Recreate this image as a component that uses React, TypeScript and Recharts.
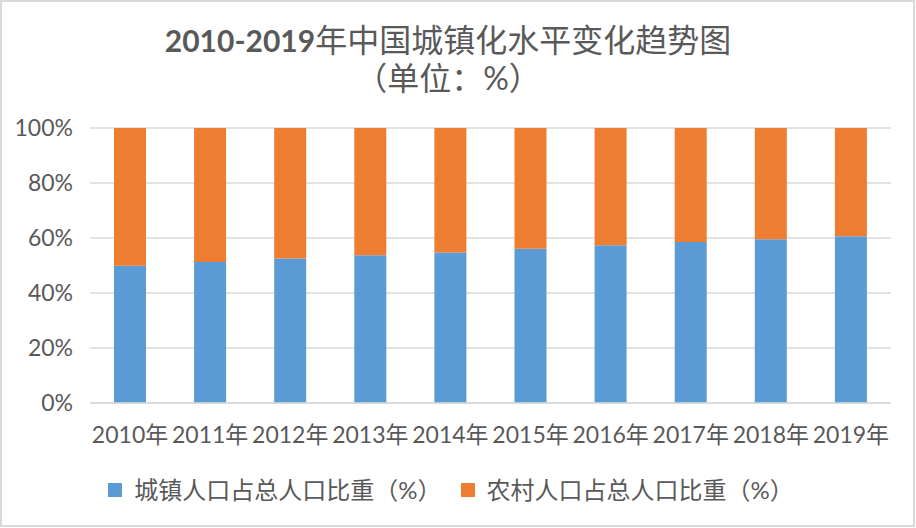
import { Bar, BarChart, CartesianGrid, XAxis, YAxis } from "recharts";

const YEARS = [
  "2010年",
  "2011年",
  "2012年",
  "2013年",
  "2014年",
  "2015年",
  "2016年",
  "2017年",
  "2018年",
  "2019年"
];

// 城镇人口占总人口比重（%）
const URBAN_SHARE = [49.95, 51.27, 52.57, 53.73, 54.77, 56.1, 57.35, 58.52, 59.58, 60.6];
// 农村人口占总人口比重（%）
const RURAL_SHARE = [50.05, 48.73, 47.43, 46.27, 45.23, 43.9, 42.65, 41.48, 40.42, 39.4];

const Y_TICKS = [0, 0.2, 0.4, 0.6, 0.8, 1];

const URBAN_NAME = "城镇人口占总人口比重（%）";
const RURAL_NAME = "农村人口占总人口比重（%）";

const URBAN_COLOR = "#5b9bd5";
const RURAL_COLOR = "#ed7d31";
const TEXT = "#595959";
const GRID = "#d9d9d9";
const FONT = "Lato, 'Noto Sans CJK SC', sans-serif";

const data = YEARS.map((year, i) => ({
  year,
  urban: URBAN_SHARE[i],
  rural: RURAL_SHARE[i]
}));

const legendItems = [
  { name: URBAN_NAME, color: URBAN_COLOR },
  { name: RURAL_NAME, color: RURAL_COLOR }
];

export default function App() {
  return (
    <div
      style={{
        position: "absolute",
        left: 0,
        top: 0,
        width: 916,
        height: 528,
        background: "#fff",
        fontFamily: FONT
      }}
    >
      <div
        style={{
          position: "absolute",
          left: 0,
          top: 0,
          width: 915,
          height: 527,
          border: `2px solid ${GRID}`,
          boxSizing: "border-box"
        }}
      />
      <div
        style={{
          position: "absolute",
          left: 0,
          width: 896,
          top: 21,
          textAlign: "center",
          color: TEXT,
          lineHeight: "38px",
          whiteSpace: "nowrap"
        }}
      >
        <div style={{ fontSize: 32 }}>
          <span style={{ fontWeight: 700, fontSize: 30 }}>2010-2019</span>
          年中国城镇化水平变化趋势图
        </div>
        <div style={{ fontSize: 32 }}>（单位：%）</div>
      </div>
      <div style={{ position: "absolute", left: 0, top: 0 }}>
        <BarChart
          width={916}
          height={528}
          data={data}
          stackOffset="expand"
          margin={{ top: 128, right: 25, bottom: 95, left: 10 }}
        >
          <CartesianGrid vertical={false} stroke={GRID} strokeWidth={1.5} />
          <XAxis
            dataKey="year"
            height={30}
            interval={0}
            axisLine={{ stroke: GRID, strokeWidth: 1.5 }}
            tickLine={false}
            tickSize={0}
            tickMargin={24}
            tick={{ fill: TEXT, fontSize: 23, fontFamily: FONT }}
          />
          <YAxis
            width={80}
            ticks={Y_TICKS}
            domain={[0, 1]}
            axisLine={false}
            tickLine={false}
            tickSize={0}
            tickMargin={17}
            tickFormatter={(v: number) => `${Math.round(v * 100)}%`}
            tick={{ fill: TEXT, fontSize: 23, fontFamily: FONT }}
          />
          <Bar
            dataKey="urban"
            name={URBAN_NAME}
            stackId="share"
            fill={URBAN_COLOR}
            barSize={32}
            isAnimationActive={false}
          />
          <Bar
            dataKey="rural"
            name={RURAL_NAME}
            stackId="share"
            fill={RURAL_COLOR}
            barSize={32}
            isAnimationActive={false}
          />
        </BarChart>
      </div>
      {/* legend */}
      <div
        style={{
          position: "absolute",
          left: 0,
          top: 477,
          width: 902,
          display: "flex",
          justifyContent: "center",
          alignItems: "center",
          gap: 19,
          fontSize: 24,
          lineHeight: "26px",
          color: TEXT
        }}
      >
        {legendItems.map((item) => (
          <div key={item.name} style={{ display: "flex", alignItems: "center" }}>
            <span
              style={{
                display: "inline-block",
                width: 14,
                height: 14,
                background: item.color,
                marginRight: 12
              }}
            />
            <span>{item.name}</span>
          </div>
        ))}
      </div>
    </div>
  );
}
